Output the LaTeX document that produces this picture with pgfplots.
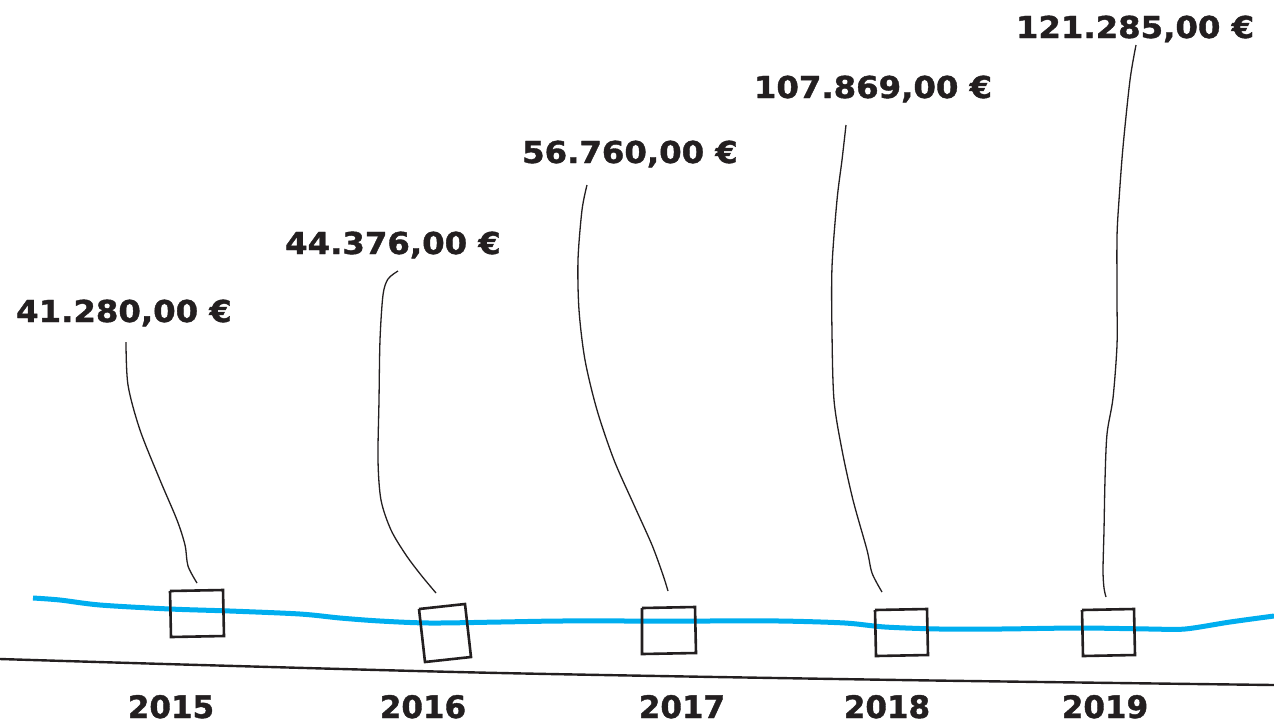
\documentclass[border=0pt]{standalone}
\usepackage{pgfplots}
\pgfplotsset{compat=1.18}
\usepackage{pgfplotstable}
\usepackage{fontspec}
\setmainfont{DejaVu Sans}
\newfontfamily\lblfont{DejaVu Sans}[FakeStretch=1.07, BoldFeatures={FakeBold=1.3}]
\newfontfamily\yrfont{DejaVu Sans}[BoldFeatures={FakeBold=1.3}]
\definecolor{ink}{RGB}{35,31,32}
\definecolor{lineblue}{RGB}{0,174,239}

% value labels: x (px), baseline y (px), value
\pgfplotstableread{
x y value
124 322 41280
393 254 44376
630 163 56760
873 98 107869
1135 38 121285
}\valuelabels

\pgfplotstableread{
x y year
171 718 2015
423 718 2016
682 718 2017
887 718 2018
1105 718 2019
}\yearlabels

\begin{document}
\begin{tikzpicture}
\begin{axis}[
  width=637pt, height=362.5pt, scale only axis,
  xmin=0, xmax=1274, ymin=0, ymax=725, y dir=reverse,
  hide axis, clip=false,
]
% baseline axis
\addplot[ink, line width=1.2pt, smooth, no marks] coordinates {(0,659)(200,665)(500,673)(900,680)(1274,685)};
% blue line
\addplot[lineblue, line width=2.5pt, smooth, no marks] coordinates {
(33,598)(60,600)(100,605)(170,609)(230,611)(300,614)(340,618)(380,621)(430,623)(500,622)(560,621)
(640,621)(700,621)(780,621)(845,623)(885,627)(940,629)(1000,629)(1080,628)(1150,629)(1185,629)(1230,622)(1274,616)};
% squares
\addplot[ink, line width=1.3pt, no marks] coordinates {(170,591)(223,590)(224,636)(171,637)(170,591)};
\addplot[ink, line width=1.3pt, no marks] coordinates {(419,609)(465,604)(471,657)(425,662)(419,609)};
\addplot[ink, line width=1.3pt, no marks] coordinates {(642,608)(695,607)(696,653)(642,654)(642,608)};
\addplot[ink, line width=1.3pt, no marks] coordinates {(875,610)(927,609)(928,655)(876,656)(875,610)};
\addplot[ink, line width=1.3pt, no marks] coordinates {(1082,610)(1134,609)(1135,655)(1083,656)(1082,610)};
% leader lines
\addplot[ink, line width=0.65pt, smooth, no marks] coordinates {(126,342)(128,385)(140,430)(160,480)(177,520)(185,545)(188,566)(197,583)};
\addplot[ink, line width=0.65pt, smooth, no marks] coordinates {(398,271)(388,279)(383,295)(380,340)(379,400)(378,460)(381,500)(391,530)(406,555)(421,575)(436,593)};
\addplot[ink, line width=0.65pt, smooth, no marks] coordinates {(587,185)(582,210)(578,260)(579,310)(585,360)(597,410)(614,460)(634,505)(652,545)(663,575)(668,591)};
\addplot[ink, line width=0.65pt, smooth, no marks] coordinates {(846,125)(842,160)(837,200)(832,267)(832,333)(834,400)(842,450)(853,500)(867,550)(872,573)(882,592)};
\addplot[ink, line width=0.65pt, smooth, no marks] coordinates {(1136,45)(1130,80)(1123,147)(1119,200)(1117,237)(1117,300)(1117,345)(1113,398)(1107,434)(1105,480)(1104,530)(1103,570)(1104,588)(1106,597)};
% value labels
\addplot[draw=none, no marks, point meta=explicit,
  nodes near coords={\pgfmathprintnumber[fixed,fixed zerofill,precision=2,use comma,1000 sep={.},assume math mode=true]{\pgfplotspointmeta}~€},
  every node near coord/.append style={anchor=base, inner sep=0pt, text=ink, font=\lblfont\bfseries\fontsize{15.1}{18}\selectfont}]
  table[x=x, y=y, meta=value] {\valuelabels};
% year labels
\addplot[draw=none, no marks, point meta=explicit symbolic,
  nodes near coords,
  every node near coord/.append style={anchor=base, inner sep=0pt, text=ink, font=\yrfont\bfseries\fontsize{15.5}{18}\selectfont}]
  table[x=x, y=y, meta=year] {\yearlabels};
\end{axis}
\pgfresetboundingbox
\path (current axis.south west) rectangle (current axis.north east);
\end{tikzpicture}
\end{document}
